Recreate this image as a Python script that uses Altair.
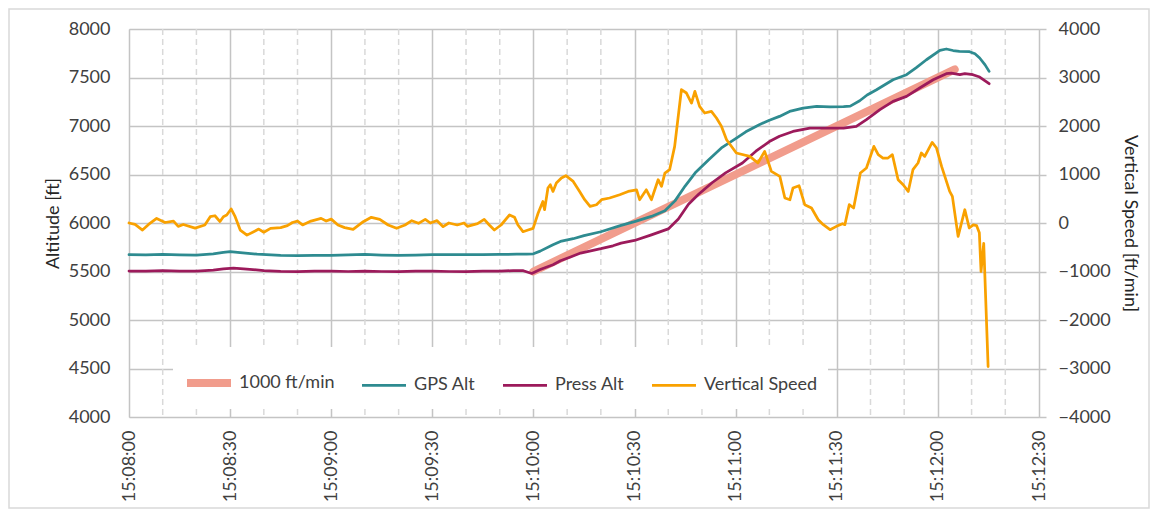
import altair as alt
import pandas as pd

DATE = "2024-01-01"
START = "15:08:00"

series_names = ["1000 ft/min", "GPS Alt", "Press Alt", "Vertical Speed"]
series_colors = ["#F19C8C", "#2E8B90", "#9C1A5B", "#F9A100"]
series_widths = [8, 2.75, 2.75, 2.75]

# seconds after 15:08:00
ref_t = [120, 245]
ref_alt = [5500, 7583]

gps_t = [0, 5, 10, 15, 20, 25, 28, 30, 33, 38, 45, 50, 55, 60, 65, 70, 75, 80, 85, 90,
         95, 100, 105, 110, 115, 118, 120, 122, 125.8, 128, 131.8, 135, 140, 146, 150,
         155, 159, 162, 165, 168, 172, 176, 180, 183, 187, 190, 193, 196, 200, 204, 208,
         212, 214, 216.8, 219, 221.8, 224, 226.7, 230.7, 233.5, 236.6, 240.6, 242.5,
         244.5, 246.4, 249.4, 251, 252.4, 254, 255.2]
gps_alt = [5673, 5672, 5676, 5672, 5670, 5682, 5698, 5706, 5695, 5678, 5665, 5664, 5665,
           5667, 5672, 5676, 5670, 5666, 5670, 5675, 5673, 5675, 5674, 5677, 5678, 5679,
           5682, 5710, 5776, 5810, 5838, 5870, 5910, 5975, 6014, 6068, 6126, 6228, 6381,
           6517, 6653, 6780, 6870, 6940, 7013, 7060, 7099, 7150, 7185, 7203, 7198, 7200,
           7205, 7260, 7320, 7374, 7420, 7477, 7529, 7600, 7683, 7780, 7794, 7778, 7770,
           7766, 7745, 7701, 7630, 7563]

press_t = [0, 5, 10, 15, 20, 25, 28, 31, 34, 40, 45, 50, 55, 60, 65, 70, 75, 80, 85, 90,
           95, 100, 105, 110, 114, 117, 119.5, 122, 125.8, 128, 131, 134, 140, 143.6, 146,
           150, 155, 160, 163, 166, 169, 173, 177, 182, 186, 190, 193, 197, 202, 207, 212,
           215.8, 218.8, 222.8, 226.7, 230.7, 234.6, 238.6, 242.5, 244, 246.5, 248, 250.4,
           252.4, 255.2]
press_alt = [5505, 5503, 5508, 5505, 5503, 5515, 5528, 5535, 5528, 5510, 5502, 5498, 5503,
             5505, 5500, 5505, 5500, 5498, 5503, 5505, 5500, 5498, 5503, 5503, 5510, 5508,
             5480, 5520, 5570, 5610, 5650, 5690, 5735, 5765, 5793, 5820, 5878, 5939, 6041,
             6194, 6296, 6415, 6517, 6619, 6740, 6840, 6895, 6944, 6979, 6979, 6979, 6996,
             7065, 7168, 7254, 7305, 7392, 7477, 7539, 7545, 7529, 7540, 7529, 7505, 7436]

vs_t = [0, 1.8, 4, 5.8, 8.2, 10.7, 13.2, 14.6, 16.1, 19.6, 22.5, 24.1, 25.5, 27, 28, 29,
        30.3, 31.5, 33, 35, 37, 38.5, 40, 42, 45, 47, 48.5, 50, 51.5, 54, 57, 58.5, 60, 62,
        64, 66.5, 69.5, 71.9, 74.4, 76.9, 79.4, 81.9, 83.9, 85.9, 87.9, 89.4, 91.4, 93.2,
        94.9, 97.4, 99.4, 100.4, 103.4, 105.4, 106.9, 108.4, 110.4, 112.9, 114.4, 115.4,
        116.9, 118.4, 119.9, 121.4, 122.8, 123.3, 124.3, 125, 125.8, 126.8, 128.3, 129.6,
        131.8, 133.7, 135.2, 136.8, 138.7, 140.2, 142.6, 145.6, 148.1, 150.6, 151.5, 153.5,
        155, 157, 158, 159, 160.4, 161.9, 163.9, 165.4, 166.9, 167.9, 169.3, 170.8, 172.8,
        174.3, 175.8, 177.3, 180.2, 184.2, 186.6, 188.6, 190.6, 193.1, 194.6, 196.1, 197,
        198.8, 200.5, 202.5, 204.5, 206, 208, 209.9, 211.7, 212.4, 213.7, 215, 217, 218.8,
        221, 222.3, 223.7, 225.2, 226.5, 228.2, 229.7, 231.2, 232.6, 234.1, 235.1, 236.1,
        238.3, 239.6, 241.1, 243.5, 244.3, 246, 248, 249.3, 250.5, 251.5, 252.3, 252.8,
        253.6, 254.9]
vs_val = [0, -30, -145, -30, 95, 10, 40, -70, -30, -105, -40, 130, 150, 30, 130, 165, 290,
          130, -145, -250, -180, -125, -190, -110, -95, -55, 10, 40, -40, 40, 95, 40, 80, -40,
          -95, -130, 27, 117, 76, -41, -110, -41, 48, -7, 76, 0, 48, -76, 0, -41, 0, -69, -14,
          76, -41, -144, -41, 165, 117, -41, -179, -144, -110, 206, 445, 274, 721, 790, 651,
          824, 928, 975, 858, 651, 480, 342, 377, 480, 515, 583, 651, 685, 480, 685, 480, 892,
          755, 1030, 1099, 1580, 2748, 2680, 2474, 2713, 2404, 2268, 2302, 2165, 1992, 1717,
          1443, 1373, 1237, 1476, 1064, 961, 515, 480, 721, 769, 377, 309, 68, -35, -138, -69,
          -14, -35, 377, 309, 1030, 1134, 1580, 1408, 1340, 1340, 1408, 892, 789, 651, 1099,
          1237, 1443, 1373, 1662, 1546, 1167, 651, 549, -276, 274, -103, -40, -55, -200,
          -1000, -420, -2960]

x_ticks = ["15:08:00", "15:08:30", "15:09:00", "15:09:30", "15:10:00",
           "15:10:30", "15:11:00", "15:11:30", "15:12:00", "15:12:30"]
x_minor = ["15:08:10", "15:08:20", "15:08:40", "15:08:50", "15:09:10", "15:09:20",
           "15:09:40", "15:09:50", "15:10:10", "15:10:20", "15:10:40", "15:10:50",
           "15:11:10", "15:11:20", "15:11:40", "15:11:50", "15:12:10", "15:12:20"]
alt_ticks = [4000, 4500, 5000, 5500, 6000, 6500, 7000, 7500, 8000]
vs_ticks = [-4000, -3000, -2000, -1000, 0, 1000, 2000, 3000, 4000]

FONT = "Lato"
FS = 18
LABEL = "#404040"
GRID = "#C4C4C4"
MINOR = "#D9D9D9"


def stamp(sec):
    base = pd.Timestamp(f"{DATE} {START}")
    return (base + pd.to_timedelta(sec, unit="s")).strftime("%Y-%m-%dT%H:%M:%S.%f")[:-3]


def dt(hms):
    h, m, s = (int(v) for v in hms.split(":"))
    return alt.DateTime(year=2024, month=1, date=1, hours=h, minutes=m, seconds=s)


def frame(ts, vals, name):
    return pd.DataFrame({"time": [stamp(t) for t in ts], "value": vals, "series": name})


ref_df = frame(ref_t, ref_alt, series_names[0])
alt_df = pd.concat([frame(gps_t, gps_alt, series_names[1]),
                    frame(press_t, press_alt, series_names[2])], ignore_index=True)
vs_df = frame(vs_t, vs_val, series_names[3])
minor_df = pd.DataFrame({"time": [f"{DATE}T{s}.000" for s in x_minor]})

x_axis = alt.Axis(values=[dt(s) for s in x_ticks], format="%H:%M:%S", labelAngle=270,
                  labelFlush=False, labelOverlap=False, grid=True, gridColor=GRID,
                  gridWidth=1.5, ticks=False, domain=False, labelPadding=13, title=None,
                  labelFont=FONT, labelFontSize=FS, labelColor=LABEL)
x_enc = alt.X("time:T", scale=alt.Scale(domain=[dt(x_ticks[0]), dt(x_ticks[-1])]), axis=x_axis)

left_axis = alt.Axis(values=alt_ticks, format="d", grid=True, gridColor=GRID, gridWidth=1.5,
                     ticks=False, domain=False, labelPadding=19, title="Altitude [ft]",
                     titlePadding=6, titleFont=FONT, titleFontSize=FS,
                     titleFontWeight="normal", titleColor="#262626", labelFont=FONT,
                     labelFontSize=FS, labelColor=LABEL)
y_left = alt.Y("value:Q", scale=alt.Scale(domain=[4000, 8000], nice=False, zero=False),
               axis=left_axis)

right_axis = alt.Axis(orient="right", values=vs_ticks, format="d", grid=False, ticks=True,
                      tickSize=7, tickColor=GRID, tickWidth=1.5, domain=False,
                      labelPadding=12, title="Vertical Speed [ft/min]", titlePadding=10,
                      titleFont=FONT, titleFontSize=FS, titleFontWeight="normal",
                      titleColor="#262626", labelFont=FONT, labelFontSize=FS,
                      labelColor=LABEL)
y_right = alt.Y("value:Q", scale=alt.Scale(domain=[-4000, 4000], nice=False, zero=False),
                axis=right_axis)

legend = alt.Legend(title=None, orient="none", legendX=44, legendY=318, direction="horizontal",
                    columns=4, symbolType="stroke", symbolSize=1936, labelFont=FONT,
                    labelFontSize=FS, labelColor=LABEL, fillColor="white", padding=10,
                    columnPadding=21, labelOffset=4, labelLimit=300)
color_enc = alt.Color("series:N", scale=alt.Scale(domain=series_names, range=series_colors),
                      legend=legend)
width_enc = alt.StrokeWidth("series:N",
                            scale=alt.Scale(type="ordinal", domain=series_names,
                                            range=series_widths),
                            legend=legend)

minor_grid = alt.Chart(minor_df).mark_rule(color=MINOR, strokeWidth=1.5,
                                           strokeDash=[6, 4]).encode(x=x_enc)

ref_line = alt.Chart(ref_df).mark_line(strokeCap="round").encode(
    x=x_enc, y=y_left, color=color_enc, strokeWidth=width_enc)
alt_lines = alt.Chart(alt_df).mark_line(strokeCap="round", strokeJoin="round").encode(
    x=x_enc, y=y_left, color=color_enc, strokeWidth=width_enc)
left_layer = alt.layer(ref_line, alt_lines)

vs_line = alt.Chart(vs_df).mark_line(strokeCap="round", strokeJoin="round").encode(
    x=x_enc, y=y_right, color=color_enc, strokeWidth=width_enc)

border = alt.Chart(pd.DataFrame({"k": [0]})).mark_rect(
    filled=False, stroke="#D9D9D9", strokeWidth=1.5).encode(
    x=alt.value(-120), x2=alt.value(1020), y=alt.value(-20), y2=alt.value(479))

chart = alt.layer(border, minor_grid, left_layer, vs_line).resolve_scale(
    y="independent"
).properties(
    width=910, height=388,
    padding={"left": 121, "top": 21, "right": 111, "bottom": 92},
    autosize=alt.AutoSizeParams(type="none"),
).configure_view(stroke=None).configure(font=FONT)

chart.save("out.html", embed_options={"renderer": "svg", "actions": False})
